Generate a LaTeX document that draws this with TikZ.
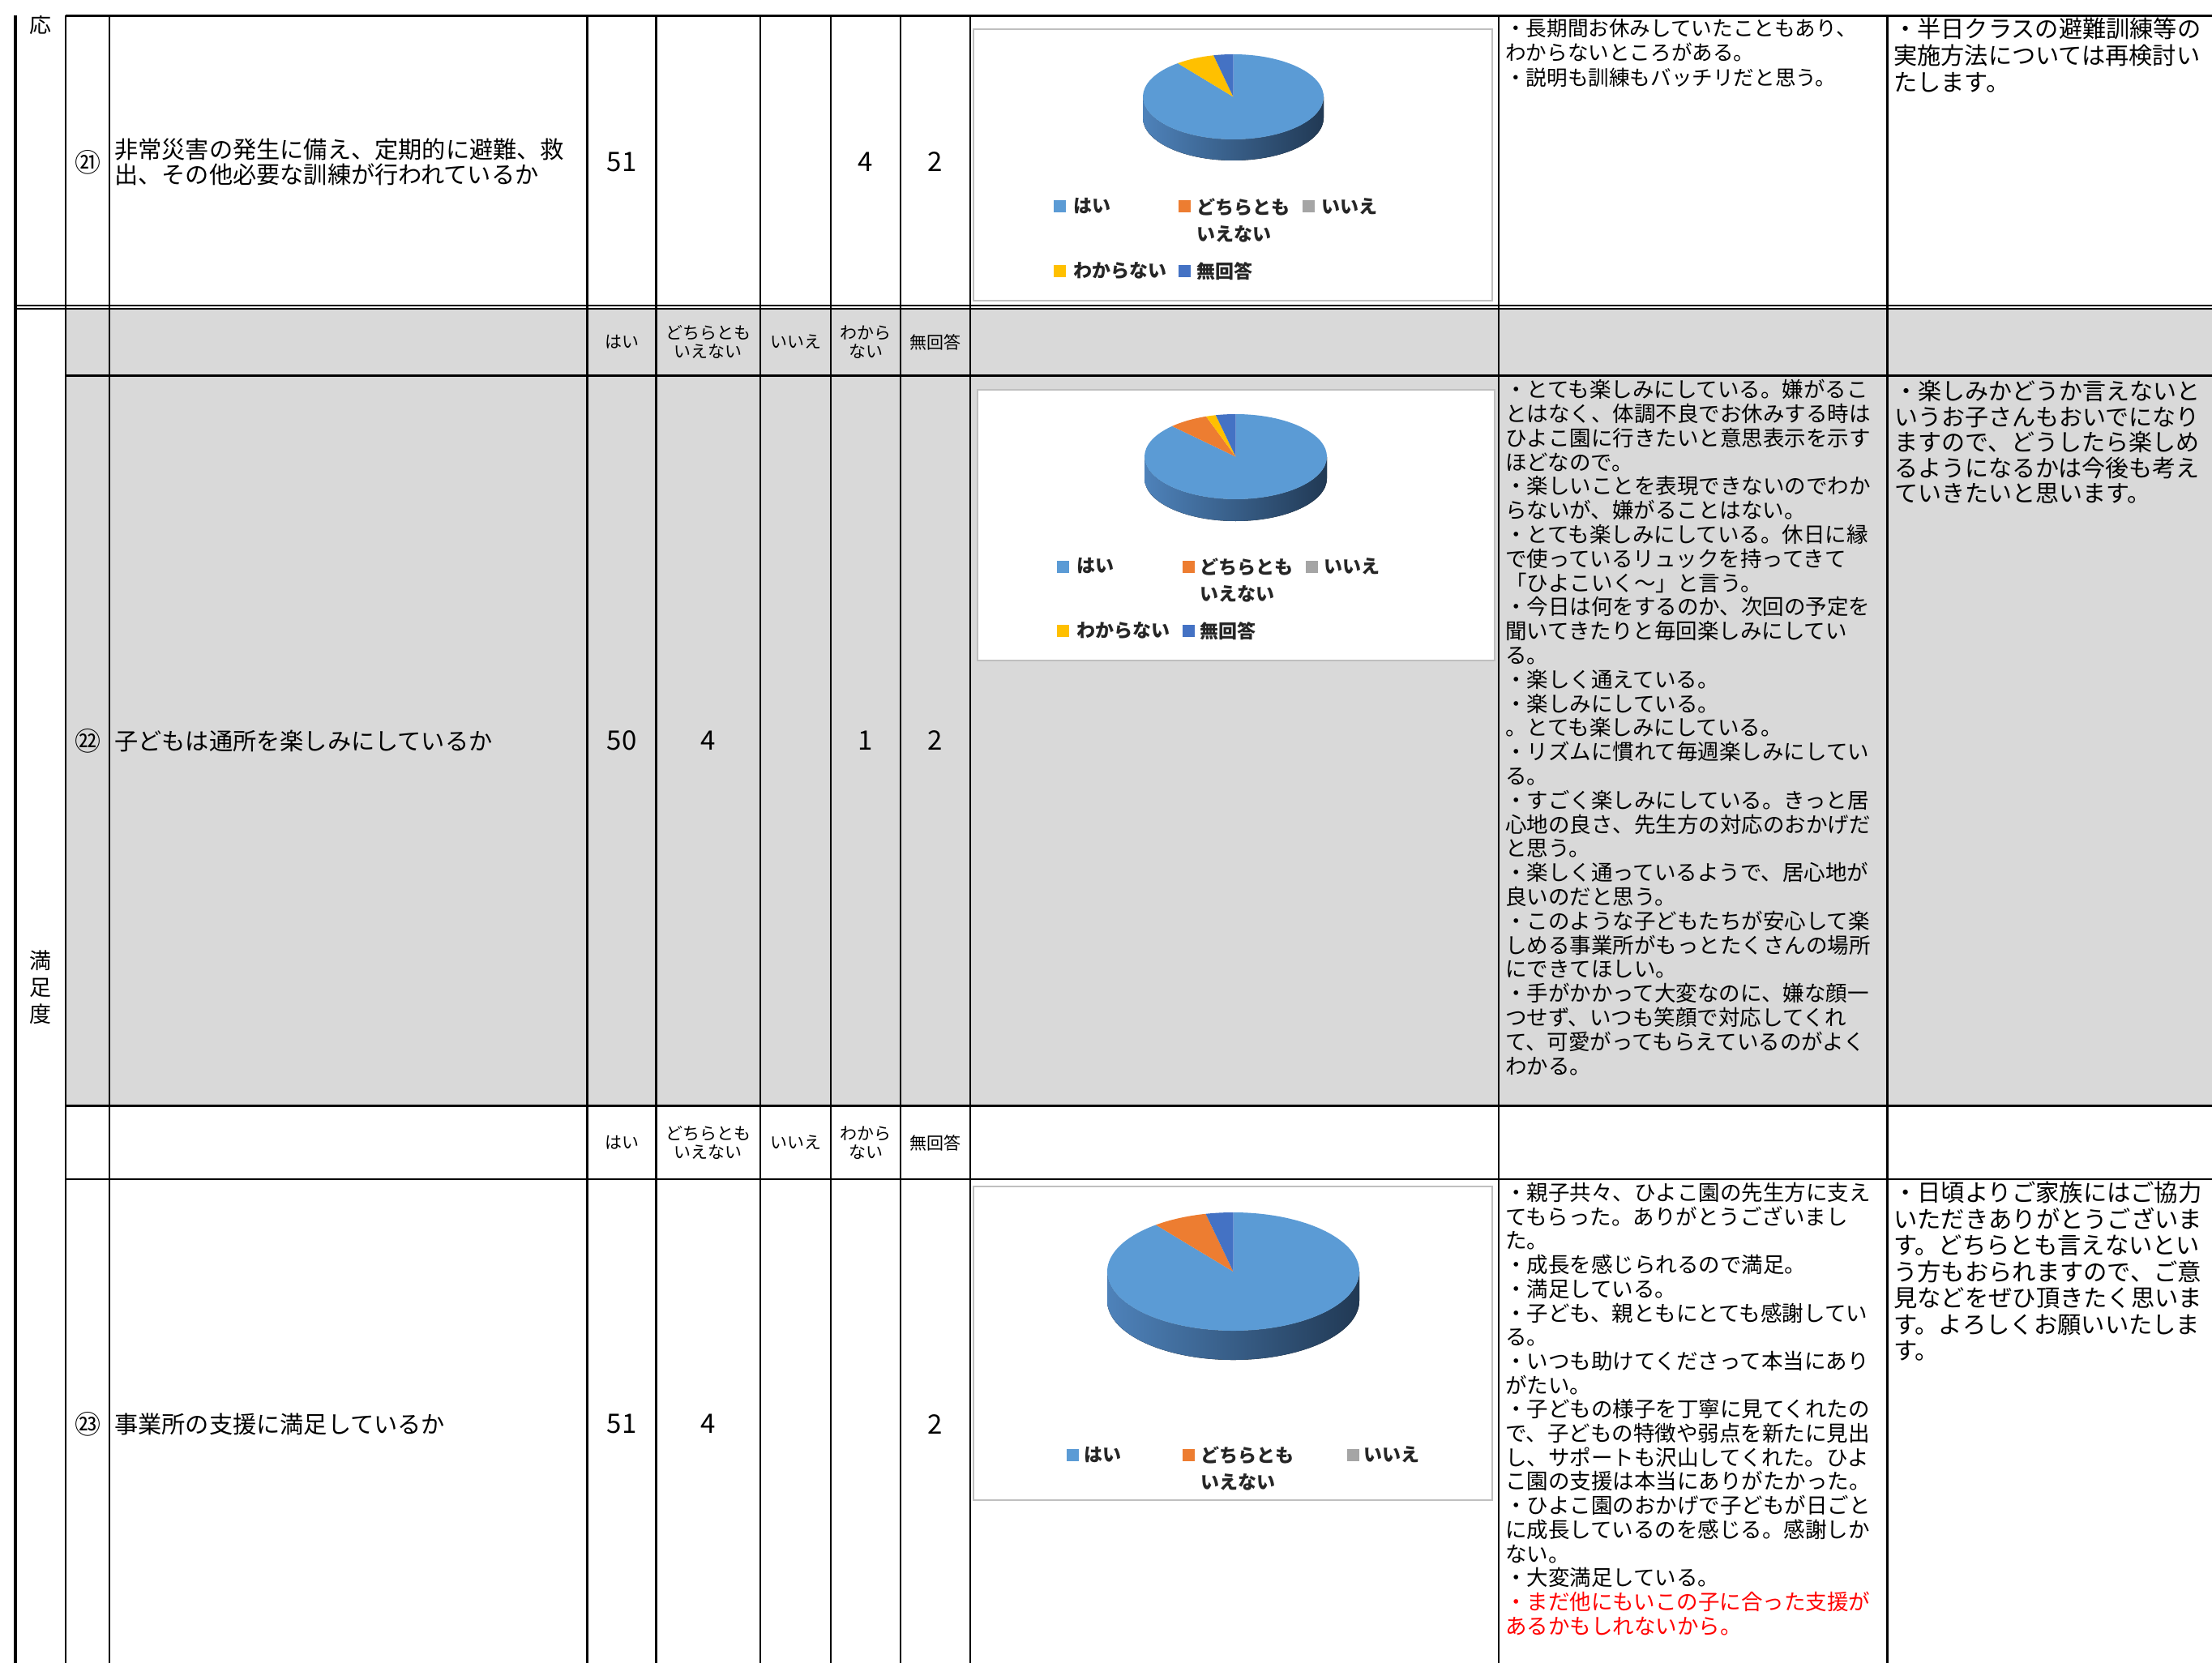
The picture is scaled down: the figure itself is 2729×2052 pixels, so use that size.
\documentclass[tikz,border=0pt]{standalone}
\usepackage{fontspec}
\setmainfont{Noto Sans CJK JP}
\definecolor{hai}{HTML}{5B9BD5}
\definecolor{dochi}{HTML}{ED7D31}
\definecolor{iie}{HTML}{A5A5A5}
\definecolor{wakara}{HTML}{FFC000}
\definecolor{mukai}{HTML}{4472C4}
\definecolor{sideL}{RGB}{78,130,186}
\definecolor{sideM}{RGB}{52,88,128}
\definecolor{sideR}{RGB}{33,57,84}
\definecolor{cellgray}{HTML}{D9D9D9}
\definecolor{framegray}{HTML}{BFBFBF}

\begin{document}
\begin{tikzpicture}[x=1pt, y=-1pt,
    tabline/.style={line width=2.7pt},
    chartframe/.style={draw=framegray, line width=1.5pt, fill=white},
    pieside/.style={left color=sideL, middle color=sideM, right color=sideR},
    sectxt/.style={inner sep=0pt, align=center, font=\fontsize{27}{33}\selectfont},
    nrtxt/.style={inner sep=0pt, font=\fontsize{32}{32}\selectfont},
    qtxt/.style={inner sep=0pt, anchor=west, align=left, font=\fontsize{29.2}{31}\selectfont},
    numtxt/.style={inner sep=0pt, font=\fontsize{33}{33}\selectfont},
    headtxt/.style={inner sep=0pt, align=center, font=\fontsize{21}{23}\selectfont},
    notetxt/.style={inner sep=0pt, anchor=north west, align=left, font=\fontsize{26.5}{29.8}\selectfont},
    replytxt/.style={inner sep=0pt, anchor=north west, align=left, font=\fontsize{29.2}{32.5}\selectfont},
    legtxt/.style={inner sep=0pt, anchor=north west, align=left, text=black!85, font=\bfseries\fontsize{23}{33}\selectfont}]
    \useasboundingbox (0,0) rectangle (2729,2052);

    % cell backgrounds
    \fill[cellgray] (81,381) rectangle (2729,1364.5);

    % chart 21
    \draw[chartframe] (1201,36) rectangle (1841,371);
    \begin{scope}[shift={(1521.5,119.5)}, yscale=-1]
        \fill[pieside] (-111.5,0) -- (-111.5,-26) arc[start angle=180, end angle=360, x radius=111.5, y radius=52.5]
            -- (111.5,0) arc[start angle=0, end angle=-180, x radius=111.5, y radius=52.5] -- cycle;
        \fill[hai] (0,0) -- (127.89:111.5 and 52.5) arc[start angle=127.89, end angle=450, x radius=111.5, y radius=52.5] -- cycle;
        \fill[wakara] (0,0) -- (102.63:111.5 and 52.5) arc[start angle=102.63, end angle=127.89, x radius=111.5, y radius=52.5] -- cycle;
        \fill[mukai] (0,0) -- (90:111.5 and 52.5) arc[start angle=90, end angle=102.63, x radius=111.5, y radius=52.5] -- cycle;
    \end{scope}
    \fill[hai] (1300,247.5) rectangle +(15,15);
    \fill[dochi] (1454,247.5) rectangle +(15,15);
    \fill[iie] (1607,247.5) rectangle +(15,15);
    \fill[wakara] (1300,326.5) rectangle +(15,15);
    \fill[mukai] (1454,326.5) rectangle +(15,15);
    \node[legtxt] (leg21hai) at (1324,244.6) {はい};
    \node[legtxt] (leg21dochi) at (1476,244.6) {どちらとも\\いえない};
    \node[legtxt] (leg21iie) at (1630,244.6) {いいえ};
    \node[legtxt] (leg21wakara) at (1324,323.6) {わからない};
    \node[legtxt] (leg21mukai) at (1476,323.6) {無回答};

    % chart 22
    \draw[chartframe] (1206,481) rectangle (1844,815);
    \begin{scope}[shift={(1524.5,563.5)}, yscale=-1]
        \fill[pieside] (-112.5,0) -- (-112.5,-27) arc[start angle=180, end angle=360, x radius=112.5, y radius=52.5]
            -- (112.5,0) arc[start angle=0, end angle=-180, x radius=112.5, y radius=52.5] -- cycle;
        \fill[hai] (0,0) -- (134.21:112.5 and 52.5) arc[start angle=134.21, end angle=450, x radius=112.5, y radius=52.5] -- cycle;
        \fill[dochi] (0,0) -- (108.95:112.5 and 52.5) arc[start angle=108.95, end angle=134.21, x radius=112.5, y radius=52.5] -- cycle;
        \fill[wakara] (0,0) -- (102.63:112.5 and 52.5) arc[start angle=102.63, end angle=108.95, x radius=112.5, y radius=52.5] -- cycle;
        \fill[mukai] (0,0) -- (90:112.5 and 52.5) arc[start angle=90, end angle=102.63, x radius=112.5, y radius=52.5] -- cycle;
    \end{scope}
    \fill[hai] (1304,691.5) rectangle +(15,15);
    \fill[dochi] (1459,691.5) rectangle +(15,15);
    \fill[iie] (1611,691.5) rectangle +(15,15);
    \fill[wakara] (1304,770.5) rectangle +(15,15);
    \fill[mukai] (1459,770.5) rectangle +(15,15);
    \node[legtxt] (leg22hai) at (1328,688.6) {はい};
    \node[legtxt] (leg22dochi) at (1480,688.6) {どちらとも\\いえない};
    \node[legtxt] (leg22iie) at (1633,688.6) {いいえ};
    \node[legtxt] (leg22wakara) at (1328,767.6) {わからない};
    \node[legtxt] (leg22mukai) at (1480,767.6) {無回答};

    % chart 23
    \draw[chartframe] (1201,1464) rectangle (1841,1851);
    \begin{scope}[shift={(1521.5,1569)}, yscale=-1]
        \fill[pieside] (-155.5,0) -- (-155.5,-36) arc[start angle=180, end angle=360, x radius=155.5, y radius=73]
            -- (155.5,0) arc[start angle=0, end angle=-180, x radius=155.5, y radius=73] -- cycle;
        \fill[hai] (0,0) -- (127.89:155.5 and 73) arc[start angle=127.89, end angle=450, x radius=155.5, y radius=73] -- cycle;
        \fill[dochi] (0,0) -- (102.63:155.5 and 73) arc[start angle=102.63, end angle=127.89, x radius=155.5, y radius=73] -- cycle;
        \fill[mukai] (0,0) -- (90:155.5 and 73) arc[start angle=90, end angle=102.63, x radius=155.5, y radius=73] -- cycle;
    \end{scope}
    \fill[hai] (1316,1787.5) rectangle +(15,15);
    \fill[dochi] (1459,1787.5) rectangle +(15,15);
    \fill[iie] (1662,1787.5) rectangle +(15,15);
    \node[legtxt] (leg23hai) at (1337,1784.6) {はい};
    \node[legtxt] (leg23dochi) at (1481,1784.6) {どちらとも\\いえない};
    \node[legtxt] (leg23iie) at (1682,1784.6) {いいえ};

    % table rules
    \draw[tabline] (81,19.5) -- (2729,19.5)
        (81,463.5) -- (2729,463.5)
        (81,1364.5) -- (2729,1364.5)
        (81,1455) -- (2729,1455);
    \draw[line width=2.2pt] (19,377.2) -- (2729,377.2);
    \draw[line width=2pt] (19,381) -- (2729,381);
    \draw[line width=4pt] (19,19.5) -- (19,2052);
    \draw[tabline] (81,19.5) -- (81,2052)
        (135,19.5) -- (135,2052)
        (724.5,19.5) -- (724.5,2052)
        (809.5,19.5) -- (809.5,2052)
        (938,19.5) -- (938,2052)
        (1025,19.5) -- (1025,2052)
        (1111,19.5) -- (1111,2052)
        (1197,19.5) -- (1197,2052)
        (1849,19.5) -- (1849,2052)
        (2328.5,19.5) -- (2328.5,2052);

    % section labels
    \begin{scope}
        \clip (21,20) rectangle (79,80);
        \node[sectxt] (secprev) at (50,30) {応};
    \end{scope}
    \node[sectxt] (secsat) at (50,1218) {満\\足\\度};

    % row 21
    \node[nrtxt] (nr21) at (108,200) {㉑};
    \node[qtxt] (q21) at (141,200) {非常災害の発生に備え、定期的に避難、救\\出、その他必要な訓練が行われているか};
    \node[numtxt] (v21hai) at (767,200) {51};
    \node[numtxt] (v21wakara) at (1068,200) {4};
    \node[numtxt] (v21mukai) at (1154,200) {2};
    \node[notetxt, font=\fontsize{25.6}{30.5}\selectfont] (note21) at (1857,22.5)
        {・長期間お休みしていたこともあり、\\わからないところがある。\\・説明も訓練もバッチリだと思う。};
    \node[replytxt, font=\fontsize{29.2}{33}\selectfont] (reply21) at (2336,21.9)
        {・半日クラスの避難訓練等の\\実施方法については再検討い\\たします。};

    % header above row 22
    \node[headtxt] (h22hai) at (767,422) {はい};
    \node[headtxt] (h22dochi) at (873.5,422) {どちらとも\\いえない};
    \node[headtxt] (h22iie) at (981.5,422) {いいえ};
    \node[headtxt] (h22wakara) at (1068,422) {わから\\ない};
    \node[headtxt] (h22mukai) at (1154,422) {無回答};

    % row 22
    \node[nrtxt] (nr22) at (108,914) {㉒};
    \node[qtxt] (q22) at (141,914) {子どもは通所を楽しみにしているか};
    \node[numtxt] (v22hai) at (767,914) {50};
    \node[numtxt] (v22dochi) at (873.5,914) {4};
    \node[numtxt] (v22wakara) at (1068,914) {1};
    \node[numtxt] (v22mukai) at (1154,914) {2};
    \node[notetxt] (note22) at (1857,468)
        {・とても楽しみにしている。嫌がるこ\\
         とはなく、体調不良でお休みする時は\\
         ひよこ園に行きたいと意思表示を示す\\
         ほどなので。\\
         ・楽しいことを表現できないのでわか\\
         らないが、嫌がることはない。\\
         ・とても楽しみにしている。休日に縁\\
         で使っているリュックを持ってきて\\
         「ひよこいく～」と言う。\\
         ・今日は何をするのか、次回の予定を\\
         聞いてきたりと毎回楽しみにしてい\\
         る。\\
         ・楽しく通えている。\\
         ・楽しみにしている。\\
         。とても楽しみにしている。\\
         ・リズムに慣れて毎週楽しみにしてい\\
         る。\\
         ・すごく楽しみにしている。きっと居\\
         心地の良さ、先生方の対応のおかげだ\\
         と思う。\\
         ・楽しく通っているようで、居心地が\\
         良いのだと思う。\\
         ・このような子どもたちが安心して楽\\
         しめる事業所がもっとたくさんの場所\\
         にできてほしい。\\
         ・手がかかって大変なのに、嫌な顔一\\
         つせず、いつも笑顔で対応してくれ\\
         て、可愛がってもらえているのがよく\\
         わかる。};
    \node[replytxt, font=\fontsize{29}{31.5}\selectfont] (reply22) at (2337,469)
        {・楽しみかどうか言えないと\\
         いうお子さんもおいでになり\\
         ますので、どうしたら楽しめ\\
         るようになるかは今後も考え\\
         ていきたいと思います。};

    % header above row 23
    \node[headtxt] (h23hai) at (767,1410) {はい};
    \node[headtxt] (h23dochi) at (873.5,1410) {どちらとも\\いえない};
    \node[headtxt] (h23iie) at (981.5,1410) {いいえ};
    \node[headtxt] (h23wakara) at (1068,1410) {わから\\ない};
    \node[headtxt] (h23mukai) at (1154,1410) {無回答};

    % row 23
    \node[nrtxt] (nr23) at (108,1757) {㉓};
    \node[qtxt] (q23) at (141,1757) {事業所の支援に満足しているか};
    \node[numtxt] (v23hai) at (767,1757) {51};
    \node[numtxt] (v23dochi) at (873.5,1757) {4};
    \node[numtxt] (v23mukai) at (1154,1757) {2};
    \node[notetxt, font=\fontsize{26.5}{29.7}\selectfont] (note23) at (1857,1459)
        {・親子共々、ひよこ園の先生方に支え\\
         てもらった。ありがとうございまし\\
         た。\\
         ・成長を感じられるので満足。\\
         ・満足している。\\
         ・子ども、親ともにとても感謝してい\\
         る。\\
         ・いつも助けてくださって本当にあり\\
         がたい。\\
         ・子どもの様子を丁寧に見てくれたの\\
         で、子どもの特徴や弱点を新たに見出\\
         し、サポートも沢山してくれた。ひよ\\
         こ園の支援は本当にありがたかった。\\
         ・ひよこ園のおかげで子どもが日ごと\\
         に成長しているのを感じる。感謝しか\\
         ない。\\
         ・大変満足している。\\
         \textcolor{red}{・まだ他にもいこの子に合った支援が}\\
         \textcolor{red}{あるかもしれないから。}};
    \node[replytxt, font=\fontsize{29.3}{32.5}\selectfont] (reply23) at (2336,1457.8)
        {・日頃よりご家族にはご協力\\
         いただきありがとうございま\\
         す。どちらとも言えないとい\\
         う方もおられますので、ご意\\
         見などをぜひ頂きたく思いま\\
         す。よろしくお願いいたしま\\
         す。};
\end{tikzpicture}
\end{document}
